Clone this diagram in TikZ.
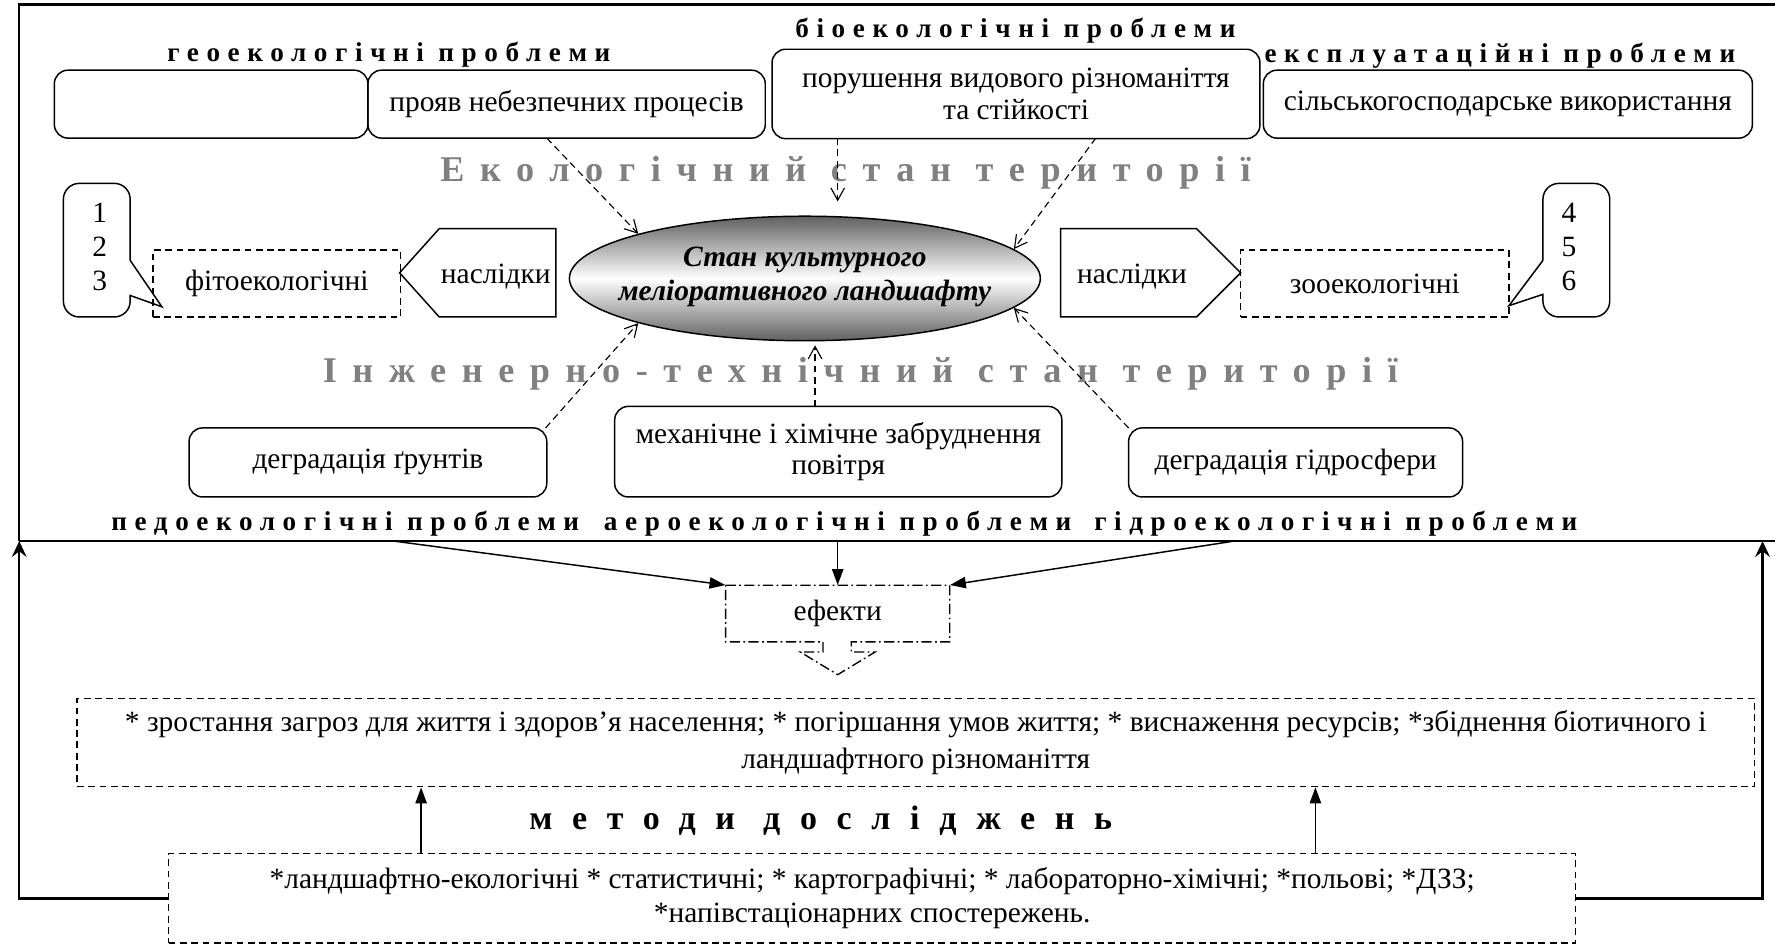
\documentclass[tikz,border=0pt]{standalone}
\usepackage{fontspec}
\setmainfont{Liberation Serif}
\usetikzlibrary{arrows.meta,shapes.geometric}
\definecolor{tgray}{RGB}{128,128,128}
\newcommand{\bodyfnt}{\fontsize{26}{28}\selectfont}
\newcommand{\hdrfnt}{\fontsize{24}{28}\selectfont\bfseries\addfontfeature{LetterSpace=28}}
\newcommand{\gfnt}{\fontsize{32}{36}\selectfont\bfseries\addfontfeature{LetterSpace=43}}
\newcommand{\mfnt}{\fontsize{30}{36}\selectfont\bfseries\addfontfeature{LetterSpace=58}}
\begin{document}
\begin{tikzpicture}[x=1pt,y=-1pt,
  every node/.style={font=\bodyfnt, inner sep=0pt, align=center},
  rbox/.style={draw, line width=1.3pt, rounded corners=12pt},
  dbox/.style={draw, line width=1.2pt, dash pattern=on 6pt off 4pt},
  hdr/.style={font=\hdrfnt},
  gtitle/.style={font=\gfnt, text=tgray},
  darrow/.style={line width=1pt, dash pattern=on 6pt off 4pt, -{Straight Barb[length=11pt,width=12pt]}},
  sarrow/.style={line width=1.3pt, -{Triangle[length=14pt,width=10pt]}},
  fb/.style={line width=2.2pt, -{Stealth[length=14pt,width=13pt,inset=5pt]}},
  frame/.style={line width=2.2pt},
  outl/.style={line width=1.3pt, line join=miter}
]
\useasboundingbox (0,0) rectangle (1568,837);

% frame
\draw[frame] (1572,4) -- (17,4) -- (17,478);
\draw[frame] (17,478) -- (1572,478);

% headers
\node[hdr] (hg) at (343.5,48) {геоекологічні проблеми};
\node[hdr] (hb) at (897,27) {біоекологічні проблеми};
\node[hdr] (he) at (1325,49) {експлуатаційні проблеми};

% top boxes
\node[rbox, minimum width=277pt, minimum height=60pt] (ba) at (186.5,92) {};
\node[rbox, minimum width=351pt, minimum height=60pt] (bb) at (500.5,92) {прояв небезпечних процесів};
\node[rbox, minimum width=431pt, minimum height=79pt] (bc) at (897.5,83) {порушення видового різноманіття\\та стійкості};
\node[rbox, minimum width=432pt, minimum height=60pt] (bd) at (1332,92) {сільськогосподарське використання};

% gray titles
\node[gtitle] (t1) at (747,153) {Екологічний стан території};
\node[gtitle] (t2) at (760,330) {Інженерно-технічний стан території};

% ellipse
\node[ellipse, draw, line width=1.3pt, minimum width=416pt, minimum height=110pt,
  top color=black!62, bottom color=black!62, middle color=white] (ell) at (711,246) {};
\node[font=\fontsize{26}{30}\selectfont\bfseries\itshape] (ellt) at (711,245) {Стан культурного\\меліоративного ландшафту};

% left callout
\draw[outl] (115,230) -- (143,271) -- (115,261) [rounded corners=14pt] -- (115,280) -- (56,280) -- (56,162) -- (115,162) -- (115,230);
\node[font=\fontsize{26}{30}\selectfont] (n123) at (88,218) {1\\2\\3};
% right callout
\draw[outl] (1363,230) -- (1333,270) -- (1363,260) [rounded corners=14pt] -- (1363,280) -- (1422,280) -- (1422,162) -- (1363,162) -- (1363,230);
\node[font=\fontsize{26}{30}\selectfont] (n456) at (1386,218) {4\\5\\6};

% dashed boxes
\node[dbox, minimum width=219pt, minimum height=59pt] (fito) at (244.5,250.5) {фітоекологічні};
\node[dbox, minimum width=237pt, minimum height=59pt] (zoo) at (1214.5,250.5) {зооекологічні};

% pentagons
\draw[outl] (353,241) -- (388,202) -- (491,202) -- (491,280) -- (388,280) -- cycle;
\node (nl) at (438,244) {наслідки};
\draw[outl] (937,202) -- (1057,202) -- (1096,241) -- (1057,280) -- (937,280) -- cycle;
\node (nr) at (1000,244) {наслідки};

% bottom boxes
\node[rbox, minimum width=316pt, minimum height=61pt] (bg) at (325,408.5) {деградація ґрунтів};
\node[rbox, minimum width=395pt, minimum height=80pt] (bm) at (740.5,399) {механічне і хімічне забруднення\\повітря};
\node[rbox, minimum width=295pt, minimum height=61pt] (bh) at (1144.5,408.5) {деградація гідросфери};

% bottom headers
\node[hdr] (hp) at (305,463) {педоекологічні проблеми};
\node[hdr] (ha) at (740,463) {аероекологічні проблеми};
\node[hdr] (hh) at (1180,463) {гідроекологічні проблеми};

% dashed arrows
\coordinate (s1) at (483,122);
\coordinate (s2) at (740,122);
\coordinate (e2) at (740,178);
\coordinate (s3) at (968,122);
\coordinate (s4) at (482,378);
\coordinate (s5) at (720,359);
\coordinate (e5) at (720,305);
\coordinate (s6) at (997,378);
\draw[darrow] (s1) -- (ell.165);
\draw[darrow] (s2) -- (e2);
\draw[darrow] (s3) -- (ell.8);
\draw[darrow] (s4) -- (ell.195);
\draw[darrow] (s5) -- (e5);
\draw[darrow] (s6) -- (ell.352);

% effects block
\node[minimum width=198pt, minimum height=50pt] (ef) at (740,542) {ефекти};
\draw[line width=1.2pt, dash pattern=on 9pt off 3pt on 1.5pt off 3pt]
  (641,517) -- (839,517) -- (839,567) -- (752,567) -- (752,576) -- (773,576) -- (740,596)
  -- (707,576) -- (727,576) -- (727,567) -- (641,567) -- cycle;
\coordinate (L1) at (348,478);
\coordinate (L2) at (740,478);
\coordinate (L3) at (1090,478);
\draw[sarrow] (L1) -- (ef.north west);
\draw[sarrow] (L2) -- (ef.north);
\draw[sarrow] (L3) -- (ef.north east);

% effects box
\node[dbox, minimum width=1482pt, minimum height=78pt, font=\fontsize{26}{32}\selectfont] (eff) at (809,656)
  {* зростання загроз для життя і здоров’я населення; * погіршання умов життя; * виснаження ресурсів; *збіднення біотичного і\\ландшафтного різноманіття};

% methods
\node[font=\mfnt] (mh) at (725,725) {методи досліджень};
\node[dbox, minimum width=1243pt, minimum height=79pt, font=\fontsize{26}{30}\selectfont] (meth) at (770.5,793.5)
  {*ландшафтно-екологічні * статистичні; * картографічні; * лабораторно-хімічні; *польові; *ДЗЗ;\\*напівстаціонарних спостережень.};

\coordinate (ua) at (372,0);
\coordinate (ub) at (1162,0);
\draw[sarrow] (meth.north -| ua) -- (eff.south -| ua);
\draw[sarrow] (meth.north -| ub) -- (eff.south -| ub);

% feedback
\coordinate (fl) at (17,478);
\coordinate (fr) at (1557,478);
\draw[fb] (meth.west) -| (fl);
\draw[fb] (meth.east) -| (fr);
\end{tikzpicture}
\end{document}
